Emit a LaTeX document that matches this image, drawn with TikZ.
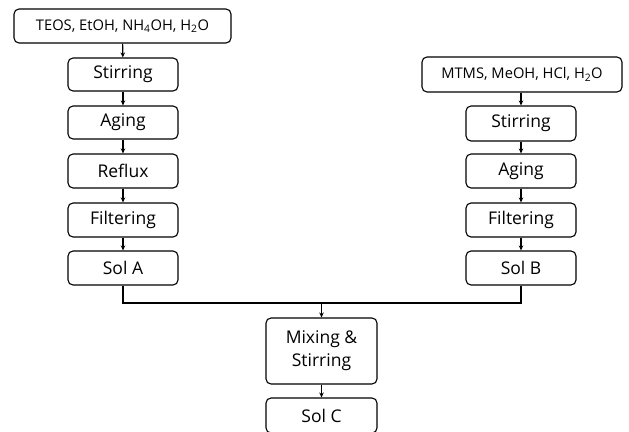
\documentclass[tikz,border=0pt]{standalone}
\usepackage{fontspec}
\setmainfont{Open Sans}
\usetikzlibrary{arrows.meta}
\begin{document}
\begin{tikzpicture}[x=1pt,y=-1pt,
  box/.style={draw,line width=1.1pt,rounded corners=5pt,minimum width=110pt,minimum height=33pt,inner sep=0pt,font=\fontsize{17.5}{21}\selectfont,align=center},
  arr/.style={line width=1.1pt,-{Stealth[length=5pt,width=4.5pt]}}]
\useasboundingbox (0,0) rectangle (629,431);
\fill[white] (0,0) rectangle (629,431);
% left column
\node[box,minimum width=217pt,minimum height=34pt,font=\fontsize{14.7}{17}\selectfont] (t1) at (122.5,26) {TEOS, EtOH, NH\textsubscript{4}OH, H\textsubscript{2}O};
\node[box] (a1) at (123,74.5) {Stirring};
\node[box] (a2) at (123,122.5) {Aging};
\node[box,minimum height=34pt] (a3) at (123,171) {Reflux};
\node[box,minimum height=34pt] (a4) at (123,220) {Filtering};
\node[box,minimum height=34pt] (a5) at (123,268) {Sol A};
% right column
\node[box,minimum width=200pt,minimum height=35pt,font=\fontsize{14.7}{17}\selectfont] (t2) at (522,74.5) {MTMS, MeOH, HCl, H\textsubscript{2}O};
\node[box,minimum height=35pt] (b1) at (521,123.5) {Stirring};
\node[box,minimum height=34pt] (b2) at (521,171) {Aging};
\node[box,minimum height=34pt] (b3) at (521,220) {Filtering};
\node[box,minimum height=34pt] (b4) at (521,268) {Sol B};
% bottom
\node[box,minimum width=111pt,minimum height=66pt,font=\fontsize{17.5}{23}\selectfont] (m) at (321.5,351) {Mixing \&\\Stirring};
\node[box,minimum width=111pt,minimum height=35pt] (c) at (321.5,415.5) {Sol C};
\coordinate (j) at (321.5,303);
% arrows
\draw[arr] (t1) -- (a1);
\draw[arr] (a1) -- (a2);
\draw[arr] (a2) -- (a3);
\draw[arr] (a3) -- (a4);
\draw[arr] (a4) -- (a5);
\draw[arr] (t2.south -| b1) -- (b1);
\draw[arr] (b1) -- (b2);
\draw[arr] (b2) -- (b3);
\draw[arr] (b3) -- (b4);
\draw[line width=1.1pt] (a5.south) |- (j) -| (b4.south);
\draw[arr] (j) -- (m);
\draw[arr] (m) -- (c);
\end{tikzpicture}
\end{document}
